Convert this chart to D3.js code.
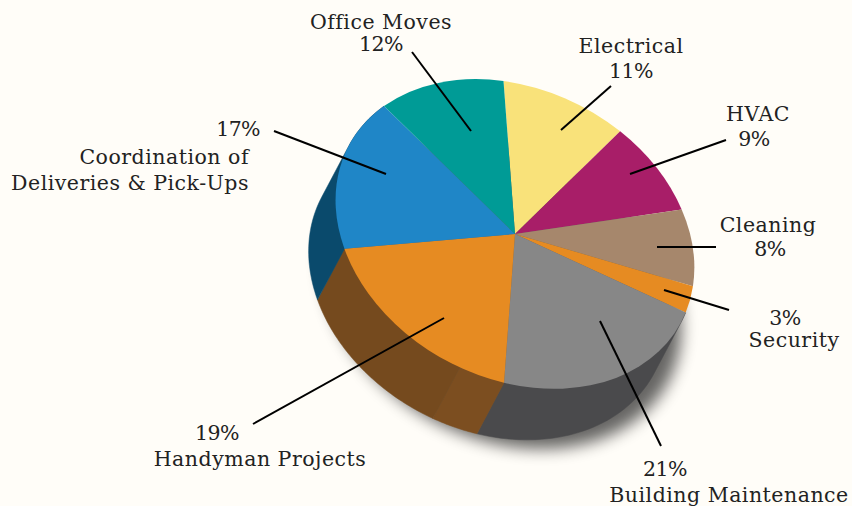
<!DOCTYPE html>
<html>
<head>
<meta charset="utf-8">
<script src="https://cdn.jsdelivr.net/npm/d3@7"></script>
<style>
html, body { margin: 0; padding: 0; background: #fffdf8; overflow: hidden; }
text { font-family: "DejaVu Serif", serif; font-size: 20.5px; letter-spacing: 0.5px; fill: #222; }
text.pct { letter-spacing: -0.6px; }
</style>
</head>
<body>
<div id="chart"></div>
<script>
var width = 852, height = 506;

// data, clockwise starting at Electrical
var categories = ["Electrical", "HVAC", "Cleaning", "Security", "Building Maintenance", "Handyman Projects", "Coordination of|Deliveries & Pick-Ups", "Office Moves"];
var shares = [11, 9, 8, 3, 21, 19, 17, 12];
var topColors = ["#f9e27a", "#a81e68", "#a6876c", "#e68b22", "#878787", "#e68b22", "#1f86c7", "#009b96"];

// the visible outer wall. handyman has two panels (4 + 15)
var wallShares = [21, 4, 15, 17];
var wallColors = ["#4a4a4c", "#7c4e20", "#754a1e", "#0a4a6c"];
var wallStart = 31; // percent before the first wall panel

// label placement: anchor, text x, first baseline, percent position, leader line
var labelLayout = [
    { anchor: "middle", x: 631, y: 53, pctX: 631, pctY: 78, line: [611, 86, 561, 130] },
    { anchor: "middle", x: 758, y: 121, pctX: 754, pctY: 146, line: [726, 140, 630, 174] },
    { anchor: "middle", x: 768, y: 232, pctX: 770, pctY: 256, line: [716, 247, 657, 247] },
    { anchor: "middle", x: 794, y: 347, pctX: 785, pctY: 325, line: [729, 310, 664, 290] },
    { anchor: "middle", x: 729, y: 502, pctX: 665, pctY: 476, line: [661, 446, 600, 321] },
    { anchor: "middle", x: 260, y: 466, pctX: 217, pctY: 440, line: [253, 424, 444, 318] },
    { anchor: "end", x: 249, y: 164, pctX: 260, pctY: 136, line: [274, 131, 386, 174] },
    { anchor: "middle", x: 381, y: 29, pctX: 381, pctY: 51, line: [412, 52, 471, 131] }
];

// the pie is a sheared circle, this is the affine fit to the picture
var cx = 515, cy = 234;
var m = { a: 179, b: 24, c: 11.5, d: 153 };
var depth = { x: -27, y: 51 };

var svg = d3.select("#chart")
    .append("svg")
    .attr("width", width)
    .attr("height", height);

var defs = svg.append("defs");
defs.append("filter")
    .attr("id", "blur")
    .attr("x", "-20%").attr("y", "-20%")
    .attr("width", "140%").attr("height", "140%")
    .append("feGaussianBlur")
    .attr("stdDeviation", 8);

// percent -> angle
var angle = d3.scaleLinear().domain([0, 100]).range([0, 2 * Math.PI]);

function project(a, dx, dy) {
    var x = Math.sin(a), y = -Math.cos(a);
    return [cx + m.a * x + m.c * y + (dx || 0), cy + m.b * x + m.d * y + (dy || 0)];
}

var pie = d3.pie().sort(null).value(function(d) { return d; });
var arc = d3.arc().innerRadius(0).outerRadius(1);
var line = d3.line();

// soft shadow only under the base of the pie
svg.append("path")
    .attr("d", line(d3.range(0, 100).map(function(p) { return project(angle(p), depth.x + 14, depth.y + 9); })) + "Z")
    .attr("fill", "#000")
    .attr("opacity", 0.6)
    .attr("filter", "url(#blur)");

// outer walls, the hull gives the straight edge where the wall turns away
var startPct = wallStart;
wallShares.forEach(function(w, i) {
    var a0 = angle(startPct), a1 = angle(startPct + w);
    var steps = d3.range(0, 41).map(function(k) { return a0 + (a1 - a0) * k / 40; });
    var pts = steps.map(function(a) { return project(a); })
        .concat(steps.map(function(a) { return project(a, depth.x, depth.y); }));
    svg.append("path")
        .attr("d", line(d3.polygonHull(pts)) + "Z")
        .attr("fill", wallColors[i])
        .attr("stroke", wallColors[i])
        .attr("stroke-width", 0.5);
    startPct += w;
});

// top face
svg.append("g")
    .attr("transform", "matrix(" + [m.a, m.b, m.c, m.d, cx, cy].join(",") + ")")
    .selectAll("path")
    .data(pie(shares))
    .enter()
    .append("path")
    .attr("d", arc)
    .attr("fill", function(d, i) { return topColors[i]; });

// leader lines
svg.selectAll("line.leader")
    .data(labelLayout)
    .enter()
    .append("line")
    .attr("class", "leader")
    .attr("x1", function(d) { return d.line[0]; })
    .attr("y1", function(d) { return d.line[1]; })
    .attr("x2", function(d) { return d.line[2]; })
    .attr("y2", function(d) { return d.line[3]; })
    .attr("stroke", "#000")
    .attr("stroke-width", 2);

// labels
categories.forEach(function(name, i) {
    var l = labelLayout[i];
    svg.append("text")
        .attr("class", "pct")
        .attr("x", l.pctX)
        .attr("y", l.pctY)
        .attr("text-anchor", l.anchor)
        .text(shares[i] + "%");
    name.split("|").forEach(function(part, j) {
        svg.append("text")
            .attr("x", l.x)
            .attr("y", l.y + j * 26)
            .attr("text-anchor", l.anchor)
            .text(part);
    });
});
</script>
</body>
</html>
